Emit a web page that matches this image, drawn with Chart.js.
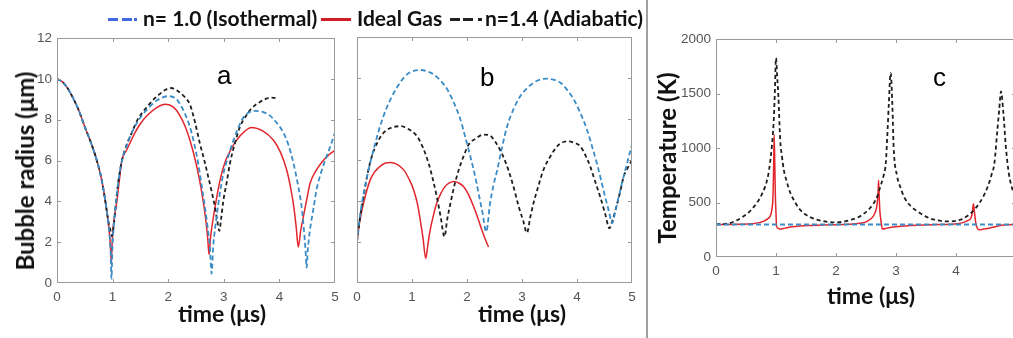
<!DOCTYPE html>
<html>
<head>
<meta charset="utf-8">
<script src="https://cdn.jsdelivr.net/npm/chart.js@4.4.1/dist/chart.umd.min.js"></script>
<style>
  html, body { margin:0; padding:0; background:#fff; }
  body { width:1013px; height:338px; overflow:hidden; position:relative; }
  canvas { position:absolute; left:0; top:0; }
  .t { position:absolute; white-space:nowrap; line-height:1; color:#111; }
  .lg { font-family: Lato, "Open Sans", sans-serif; font-weight:700; font-size:21px; top:7px; }
  .ax { font-family: Lato, "Open Sans", sans-serif; font-weight:700; font-size:23px; }
  .ay { font-family: Lato, "Open Sans", sans-serif; font-weight:700; font-size:24px; }
  .pl { font-family: "Liberation Sans", Arial, sans-serif; font-size:26px; color:#000; }
  .mk { position:absolute; height:3px; }
</style>
</head>
<body>
<canvas id="cA" width="1013" height="338"></canvas>
<canvas id="cB" width="1013" height="338"></canvas>
<canvas id="cC" width="1030" height="338"></canvas>

<!-- separator -->
<div style="position:absolute;left:646px;top:0;width:2px;height:338px;background:#a0a0a0;"></div>

<!-- legend -->
<div class="mk" style="left:108px;top:18px;width:10px;background:#4169e1;"></div>
<div class="mk" style="left:122px;top:18px;width:10px;background:#4169e1;"></div>
<div class="mk" style="left:134px;top:18px;width:3px;background:#4169e1;"></div>
<div class="t lg" style="left:143px;">n= 1.0 (Isothermal)</div>
<div class="mk" style="left:321px;top:18px;width:30px;background:#d01c24;"></div>
<div class="t lg" style="left:357px;">Ideal Gas</div>
<div class="mk" style="left:450px;top:18px;width:10px;background:#222;"></div>
<div class="mk" style="left:463px;top:18px;width:10px;background:#222;"></div>
<div class="mk" style="left:478px;top:18px;width:4px;background:#222;"></div>
<div class="t lg" style="left:485px;">n=1.4 (Adiabatic)</div>

<!-- panel letters -->
<div class="t pl" style="left:217px;top:62px;">a</div>
<div class="t pl" style="left:480px;top:64px;">b</div>
<div class="t pl" style="left:933px;top:64px;">c</div>

<!-- axis titles -->
<div class="t ax" style="left:222px;top:302px;transform:translateX(-50%);">time (μs)</div>
<div class="t ax" style="left:522px;top:302px;transform:translateX(-50%);">time (μs)</div>
<div class="t ax" style="left:871px;top:284px;transform:translateX(-50%);">time (μs)</div>
<div class="t ay" style="left:25px;top:171px;transform:translate(-50%,-50%) rotate(-90deg);">Bubble radius (μm)</div>
<div class="t ay" style="left:667px;top:158px;transform:translate(-50%,-50%) rotate(-90deg);">Temperature (K)</div>

<script>
// ---------------- Panel a : bubble radius (µm) vs time (µs) ----------------
const timeA_ideal = [0,0.1,0.2,0.3,0.4,0.5,0.6,0.7,0.8,0.87,0.92,0.95,0.965,0.976,0.985,1.0,1.03,1.077,1.12,1.167,1.25,1.32,1.4,1.5,1.62,1.8,1.95,2.1,2.2,2.3,2.39,2.48,2.56,2.63,2.68,2.71,2.735,2.76,2.8,2.86,2.93,3.02,3.14,3.29,3.5,3.7,3.89,4.02,4.13,4.2,4.25,4.3,4.34,4.38,4.43,4.5,4.55,4.67,4.79,4.9,5.0];
const radA_ideal  = [10,9.85,9.5,9.0,8.4,7.65,6.95,6.15,5.1,4.0,3.0,2.2,1.6,0.9,1.5,2.4,3.2,4.0,5.0,6.0,6.5,6.9,7.35,7.8,8.2,8.6,8.75,8.6,8.25,7.7,7.0,6.1,5.1,4.0,3.0,2.2,1.4,2.2,3.0,4.0,5.0,5.9,6.6,7.2,7.62,7.45,7.0,6.4,5.55,4.7,3.9,2.8,1.76,2.5,3.24,4.2,4.87,5.55,6.0,6.3,6.5];

const timeA_iso = [0,0.1,0.2,0.3,0.4,0.5,0.6,0.7,0.8,0.87,0.92,0.95,0.965,0.98,0.995,1.02,1.06,1.1,1.16,1.25,1.32,1.45,1.62,1.8,2.0,2.15,2.3,2.39,2.47,2.54,2.6,2.66,2.71,2.75,2.78,2.81,2.87,2.93,2.99,3.08,3.17,3.26,3.35,3.45,3.56,3.7,3.83,3.95,4.07,4.17,4.25,4.32,4.37,4.41,4.44,4.47,4.49,4.51,4.55,4.61,4.67,4.76,4.85,4.93,5.0];
const radA_iso  = [10,9.85,9.5,9.0,8.4,7.65,6.95,6.15,5.1,4.0,3.0,2.2,1.5,0.2,1.6,2.8,3.9,4.9,5.9,6.7,7.2,7.9,8.5,8.95,9.15,9.0,8.3,7.65,6.8,5.85,4.8,3.73,2.7,1.76,0.46,1.8,3.24,4.4,5.33,6.2,6.96,7.6,8.1,8.35,8.43,8.38,8.2,7.85,7.37,6.7,5.9,5.0,4.27,3.5,2.64,1.6,0.75,1.6,2.6,3.6,4.6,5.5,6.2,6.8,7.37];

const timeA_adi = [0,0.1,0.2,0.3,0.4,0.5,0.6,0.7,0.8,0.87,0.92,0.96,0.99,1.02,1.06,1.1,1.16,1.25,1.32,1.45,1.62,1.8,2.05,2.2,2.3,2.39,2.48,2.57,2.65,2.72,2.78,2.84,2.88,2.92,2.95,2.99,3.05,3.11,3.2,3.29,3.38,3.47,3.56,3.65,3.74,3.83,3.9,3.98];
const radA_adi  = [10,9.85,9.5,9.0,8.4,7.65,6.95,6.15,5.1,4.0,3.1,2.6,2.3,2.8,3.9,4.9,5.9,6.75,7.2,8.0,8.63,9.15,9.55,9.35,9.1,8.75,7.9,6.83,6.0,5.2,4.5,3.73,3.1,2.55,3.1,4.0,4.9,5.85,6.85,7.65,8.1,8.46,8.7,8.87,9.0,9.08,9.07,9.03];

// ---------------- Panel b : bubble radius (µm) vs time (µs) ----------------
const timeB_ideal = [0,0.05,0.12,0.24,0.33,0.42,0.52,0.61,0.72,0.85,0.95,1.03,1.1,1.15,1.2,1.25,1.29,1.33,1.39,1.45,1.52,1.6,1.68,1.76,1.85,1.94,2.03,2.12,2.2,2.27,2.33,2.39];
const radB_ideal  = [2.0,3.0,3.9,5.03,5.45,5.69,5.85,5.88,5.8,5.52,5.05,4.54,3.85,3.07,2.2,1.2,1.9,2.58,3.3,3.9,4.35,4.7,4.88,4.95,4.88,4.7,4.3,3.73,3.15,2.58,2.15,1.76];

const timeB_iso = [0,0.04,0.09,0.16,0.24,0.33,0.42,0.54,0.67,0.79,0.91,1.03,1.15,1.27,1.39,1.51,1.64,1.76,1.88,1.97,2.06,2.14,2.21,2.28,2.35,2.42,2.48,2.55,2.64,2.73,2.85,2.97,3.09,3.21,3.33,3.45,3.57,3.7,3.82,3.94,4.06,4.18,4.27,4.36,4.44,4.51,4.58,4.64,4.7,4.76,4.82,4.88,4.94,5.0];
const radB_iso  = [2.0,3.0,3.9,4.9,5.85,6.8,7.65,8.55,9.28,9.8,10.18,10.35,10.39,10.33,10.18,9.9,9.45,8.8,7.98,7.1,6.18,5.3,4.38,3.45,2.5,3.9,4.75,5.52,6.65,7.65,8.5,9.12,9.5,9.77,9.92,9.97,9.92,9.77,9.42,8.96,8.3,7.49,6.7,5.85,5.0,4.22,3.5,2.91,3.55,4.22,4.9,5.52,6.15,6.75];

const timeB_adi = [0,0.05,0.12,0.19,0.27,0.37,0.48,0.63,0.79,0.94,1.09,1.2,1.3,1.38,1.45,1.52,1.59,1.64,1.7,1.77,1.85,1.94,2.03,2.16,2.3,2.42,2.51,2.6,2.7,2.79,2.87,2.94,3.02,3.09,3.15,3.21,3.3,3.39,3.51,3.64,3.73,3.82,3.94,4.06,4.15,4.24,4.33,4.42,4.51,4.59,4.65,4.7,4.78,4.85,4.93,5.0];
const radB_adi  = [2.0,3.1,4.22,5.3,6.18,6.85,7.32,7.58,7.65,7.5,7.16,6.6,5.85,5.05,4.22,3.25,2.26,3.1,3.9,4.75,5.52,6.2,6.75,7.05,7.24,7.19,6.9,6.5,5.9,5.2,4.45,3.73,3.05,2.45,3.2,3.9,4.75,5.52,6.15,6.67,6.85,6.91,6.85,6.67,6.25,5.69,4.95,4.22,3.4,2.67,3.1,3.56,4.4,5.2,5.65,6.0];

// ---------------- Panel c : temperature (K) vs time (µs) ----------------
const timeC_iso = [0,1,2,3,4,5];
const tempC_iso = [298,298,298,298,298,298];

const timeC_ideal = [0,0.4,0.6,0.79,0.86,0.9,0.93,0.95,0.96,0.97,0.98,0.99,1.0,1.01,1.04,1.07,1.15,1.24,1.4,1.6,1.9,2.2,2.4,2.52,2.62,2.66,2.68,2.7,2.71,2.72,2.73,2.74,2.76,2.77,2.85,2.96,3.15,3.35,3.6,3.91,4.05,4.14,4.2,4.25,4.27,4.29,4.31,4.33,4.35,4.38,4.45,4.57,4.7,4.84,5.0];
const tempC_ideal = [298,300,305,327,350,373,430,556,800,1122,850,556,400,281,262,257,265,275,285,290,295,300,310,327,373,420,464,580,703,560,430,373,290,257,265,275,285,292,297,300,308,320,335,358,400,489,400,312,270,250,255,266,285,295,300];

const timeC_adi = [0,0.18,0.46,0.6,0.68,0.76,0.82,0.87,0.9,0.93,0.96,0.98,1.0,1.02,1.04,1.07,1.1,1.13,1.18,1.24,1.32,1.4,1.52,1.68,1.8,1.96,2.1,2.24,2.36,2.46,2.56,2.63,2.69,2.74,2.79,2.83,2.86,2.88,2.91,2.94,2.96,3.02,3.08,3.13,3.24,3.36,3.5,3.64,3.86,4.08,4.17,4.25,4.33,4.39,4.46,4.53,4.59,4.64,4.69,4.72,4.75,4.79,4.83,4.88,4.94,5.0];
const tempC_adi = [300,305,373,440,495,570,648,750,862,1010,1229,1500,1825,1650,1473,1076,920,800,690,587,500,434,380,342,328,318,322,340,362,395,445,495,560,648,740,862,1168,1400,1688,1382,1015,739,630,556,470,418,370,342,327,342,370,404,450,495,560,648,750,862,1168,1350,1519,1321,1015,770,620,530];

// tick values / labels
const timeTicks = [0,1,2,3,4,5];
const radiusTicks = [0,2,4,6,8,10,12];
const tempTicks = [0,500,1000,1500,2000];

// ---------------- helpers ----------------
const pts = (ts, vs) => ts.map((t, i) => ({ x: t, y: vs[i] }));
const BLUE = '#3a8cc6', RED = '#e2262d', BLACK = '#1e1e1e';
const tickFont = { family: '"Liberation Sans", Arial, sans-serif', size: 13.5 };
const tickColor = '#555';

const boxTicks = {
  id: 'boxTicks',
  afterDatasetsDraw(chart) {
    const { ctx, chartArea: a, scales: { x, y } } = chart;
    ctx.save();
    ctx.strokeStyle = '#9a9a9a';
    ctx.lineWidth = 1;
    ctx.strokeRect(a.left + 0.5, a.top + 0.5, a.right - a.left - 1, a.bottom - a.top - 1);
    const L = 4;
    ctx.beginPath();
    x.ticks.forEach(t => {
      const p = Math.round(x.getPixelForValue(t.value)) + 0.5;
      if (p <= a.left + 1 || p >= a.right - 1) return;
      ctx.moveTo(p, a.bottom); ctx.lineTo(p, a.bottom - L);
      ctx.moveTo(p, a.top); ctx.lineTo(p, a.top + L);
    });
    y.ticks.forEach(t => {
      const p = Math.round(y.getPixelForValue(t.value)) + 0.5;
      if (p <= a.top + 1 || p >= a.bottom - 1) return;
      ctx.moveTo(a.left, p); ctx.lineTo(a.left + L, p);
      ctx.moveTo(a.right, p); ctx.lineTo(a.right - L, p);
    });
    ctx.stroke();
    ctx.restore();
  }
};

function makeChart(id, cfg) {
  const ds = (data, color, dash, width) => ({
    data, borderColor: color, borderWidth: width, borderDash: dash,
    pointRadius: 0, cubicInterpolationMode: 'monotone', fill: false
  });
  return new Chart(document.getElementById(id), {
    type: 'line',
    data: {
      datasets: [
        ds(cfg.iso, BLUE, [5, 3], 1.8),
        ds(cfg.adi, BLACK, [4, 3], 1.8),
        ds(cfg.ideal, RED, [], 1.5)
      ]
    },
    options: {
      responsive: false, animation: false, devicePixelRatio: 1,
      layout: { padding: cfg.pad },
      plugins: { legend: { display: false }, tooltip: { enabled: false } },
      scales: {
        x: {
          type: 'linear', min: 0, max: 5,
          afterBuildTicks: s => { s.ticks = timeTicks.map(v => ({ value: v })); },
          afterFit: s => { s.height = cfg.xh; },
          grid: { display: false, drawTicks: false }, border: { display: false },
          ticks: { color: tickColor, font: tickFont, padding: 6, maxRotation: 0, autoSkip: false,
                   callback: v => String(v) }
        },
        y: {
          type: 'linear', min: cfg.ymin, max: cfg.ymax,
          afterBuildTicks: s => { s.ticks = cfg.yt.map(v => ({ value: v })); },
          afterFit: s => { s.width = cfg.yw; },
          grid: { display: false, drawTicks: false }, border: { display: false },
          ticks: { display: cfg.ylabels, color: tickColor, font: tickFont, padding: 5, autoSkip: false,
                   callback: v => String(v) }
        }
      }
    },
    plugins: [boxTicks]
  });
}

// panel a: chart area 57..335 x 38..283
makeChart('cA', {
  iso: pts(timeA_iso, radA_iso), adi: pts(timeA_adi, radA_adi), ideal: pts(timeA_ideal, radA_ideal),
  ymin: 0, ymax: 12, yt: radiusTicks, ylabels: true,
  yw: 50, xh: 30, pad: { left: 7, top: 38, right: 1013 - 335, bottom: 338 - 283 - 30 }
});
// panel b: chart area 357..632 x 37..283
makeChart('cB', {
  iso: pts(timeB_iso, radB_iso), adi: pts(timeB_adi, radB_adi), ideal: pts(timeB_ideal, radB_ideal),
  ymin: 0, ymax: 12, yt: radiusTicks, ylabels: false,
  yw: 20, xh: 30, pad: { left: 337, top: 37, right: 1013 - 632, bottom: 338 - 283 - 30 }
});
// panel c: chart area 716..1016 x 39..257 (right edge clipped by the window)
makeChart('cC', {
  iso: pts(timeC_iso, tempC_iso), adi: pts(timeC_adi, tempC_adi), ideal: pts(timeC_ideal, tempC_ideal),
  ymin: 0, ymax: 2000, yt: tempTicks, ylabels: true,
  yw: 50, xh: 30, pad: { left: 666, top: 39, right: 1030 - 1016, bottom: 338 - 257 - 30 }
});
</script>
</body>
</html>
